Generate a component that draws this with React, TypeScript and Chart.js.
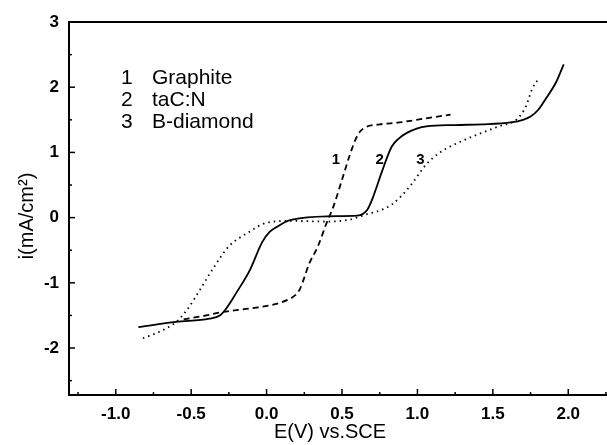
import React, { useEffect, useRef } from "react";
import { Chart, registerables } from "chart.js";

Chart.register(...registerables);

const graphiteX = [-0.55, -0.4, -0.3, -0.1, 0.05, 0.15, 0.19, 0.22, 0.25, 0.28, 0.34, 0.4, 0.44, 0.5, 0.55, 0.59, 0.62, 0.66, 0.75, 0.88, 1.05, 1.22];
const graphiteY = [-1.56, -1.5, -1.45, -1.39, -1.33, -1.25, -1.19, -1.1, -0.92, -0.72, -0.44, -0.07, 0.15, 0.58, 0.95, 1.2, 1.32, 1.39, 1.43, 1.46, 1.52, 1.58];

const tacnX = [-0.85, -0.6, -0.38, -0.31, -0.27, -0.2, -0.11, -0.03, 0.02, 0.07, 0.12, 0.17, 0.4, 0.6, 0.64, 0.67, 0.7, 0.77, 0.83, 0.88, 0.93, 1.0, 1.06, 1.25, 1.43, 1.62, 1.7, 1.75, 1.8, 1.85, 1.92, 1.97];
const tacnY = [-1.68, -1.6, -1.55, -1.5, -1.4, -1.15, -0.8, -0.38, -0.22, -0.14, -0.07, -0.03, 0.02, 0.03, 0.06, 0.13, 0.28, 0.74, 1.09, 1.22, 1.3, 1.37, 1.4, 1.42, 1.43, 1.46, 1.5, 1.55, 1.65, 1.82, 2.08, 2.35];

const bdiamX = [-0.82, -0.71, -0.6, -0.53, -0.44, -0.36, -0.25, -0.13, 0.0, 0.17, 0.4, 0.55, 0.66, 0.75, 0.83, 0.95, 1.06, 1.15, 1.32, 1.54, 1.66, 1.72, 1.76, 1.8];
const bdiamY = [-1.85, -1.75, -1.6, -1.42, -1.1, -0.8, -0.44, -0.24, -0.08, -0.05, -0.06, -0.03, 0.05, 0.11, 0.2, 0.48, 0.82, 1.0, 1.2, 1.4, 1.51, 1.71, 1.97, 2.12];

const xTicks = [-1.0, -0.5, 0.0, 0.5, 1.0, 1.5, 2.0];
const yTicks = [-2, -1, 0, 1, 2, 3];
const legendNums = ["1", "2", "3"];
const legendNames = ["Graphite", "taC:N", "B-diamond"];
const curveLabels = [
  { text: "1", x: 0.46, y: 0.89 },
  { text: "2", x: 0.75, y: 0.89 },
  { text: "3", x: 1.02, y: 0.89 },
];

const toPts = (xs: number[], ys: number[]) => xs.map((x, i) => ({ x, y: ys[i] }));

const FONT = "'Liberation Sans', Arial, sans-serif";

const decor = {
  id: "decor",
  afterDraw(chart: any) {
    const ctx = chart.ctx;
    const { left, right, top, bottom } = chart.chartArea;
    const xs = chart.scales.x;
    const ys = chart.scales.y;
    ctx.save();
    ctx.strokeStyle = "#000";
    ctx.lineWidth = 2;
    ctx.beginPath();
    ctx.rect(left, top, right - left, bottom - top);
    ctx.stroke();
    ctx.lineWidth = 1.5;
    for (let v = -1.25; v <= 2.3; v += 0.25) {
      const major = Math.abs(v * 2 - Math.round(v * 2)) < 1e-6;
      const px = xs.getPixelForValue(v);
      if (px <= left + 1 || px >= right - 1) continue;
      const len = major ? 6 : 3;
      ctx.beginPath();
      ctx.moveTo(px, bottom);
      ctx.lineTo(px, bottom - len);
      ctx.stroke();
    }
    for (let v = -2.5; v <= 3; v += 0.5) {
      const major = Math.abs(v - Math.round(v)) < 1e-6;
      const py = ys.getPixelForValue(v);
      if (py <= top + 1 || py >= bottom - 1) continue;
      const len = major ? 6 : 3;
      ctx.beginPath();
      ctx.moveTo(left, py);
      ctx.lineTo(left + len, py);
      ctx.stroke();
    }
    ctx.fillStyle = "#000";
    ctx.font = `21px ${FONT}`;
    ctx.textBaseline = "middle";
    ctx.textAlign = "left";
    legendNums.forEach((n, i) => {
      const y = 78 + i * 22;
      ctx.fillText(n, 121, y);
      ctx.fillText(legendNames[i], 152, y);
    });
    ctx.font = `bold 15px ${FONT}`;
    ctx.textAlign = "center";
    curveLabels.forEach((l) => {
      ctx.fillText(l.text, xs.getPixelForValue(l.x), ys.getPixelForValue(l.y));
    });
    ctx.font = `20px ${FONT}`;
    ctx.fillText("E(V) vs.SCE", 330, 432);
    ctx.translate(27, 216);
    ctx.rotate(-Math.PI / 2);
    ctx.fillText("i(mA/cm²)", 0, 0);
    ctx.restore();
  },
};

export default function App() {
  const ref = useRef<HTMLCanvasElement>(null);
  useEffect(() => {
    if (!ref.current) return;
    const common = {
      showLine: true,
      pointRadius: 0,
      borderColor: "#000",
      fill: false,
      cubicInterpolationMode: "monotone" as const,
    };
    const chart = new Chart(ref.current, {
      type: "scatter",
      data: {
        datasets: [
          { ...common, label: "Graphite", data: toPts(graphiteX, graphiteY), borderWidth: 1.8, borderDash: [6, 4] },
          { ...common, label: "taC:N", data: toPts(tacnX, tacnY), borderWidth: 1.8 },
          { ...common, label: "B-diamond", data: toPts(bdiamX, bdiamY), borderWidth: 1.8, borderDash: [1.5, 4] },
        ],
      },
      options: {
        animation: false,
        responsive: false,
        maintainAspectRatio: false,
        layout: { padding: { left: 0, top: 22, right: 8, bottom: 0 } },
        plugins: { legend: { display: false }, tooltip: { enabled: false } },
        scales: {
          x: {
            type: "linear",
            min: -1.31,
            max: 2.29,
            afterBuildTicks: (s: any) => { s.ticks = xTicks.map((v) => ({ value: v })); },
            afterFit: (s: any) => { s.height = 50; },
            grid: { display: false, drawTicks: false },
            border: { display: false },
            ticks: {
              color: "#000",
              padding: 9,
              font: { family: FONT, size: 17, weight: "bold" },
              callback: (v: any) => Number(v).toFixed(1),
            },
          },
          y: {
            type: "linear",
            min: -2.72,
            max: 3,
            afterBuildTicks: (s: any) => { s.ticks = yTicks.map((v) => ({ value: v })); },
            afterFit: (s: any) => { s.width = 69; },
            grid: { display: false, drawTicks: false },
            border: { display: false },
            ticks: {
              color: "#000",
              padding: 10,
              font: { family: FONT, size: 17, weight: "bold" },
              callback: (v: any) => String(v),
            },
          },
        },
      },
      plugins: [decor],
    });
    return () => chart.destroy();
  }, []);
  return (
    <div style={{ position: "fixed", left: 0, top: 0, width: 607, height: 445, overflow: "hidden", background: "#fff" }}>
      <canvas ref={ref} width={620} height={445} style={{ display: "block" }} />
    </div>
  );
}
